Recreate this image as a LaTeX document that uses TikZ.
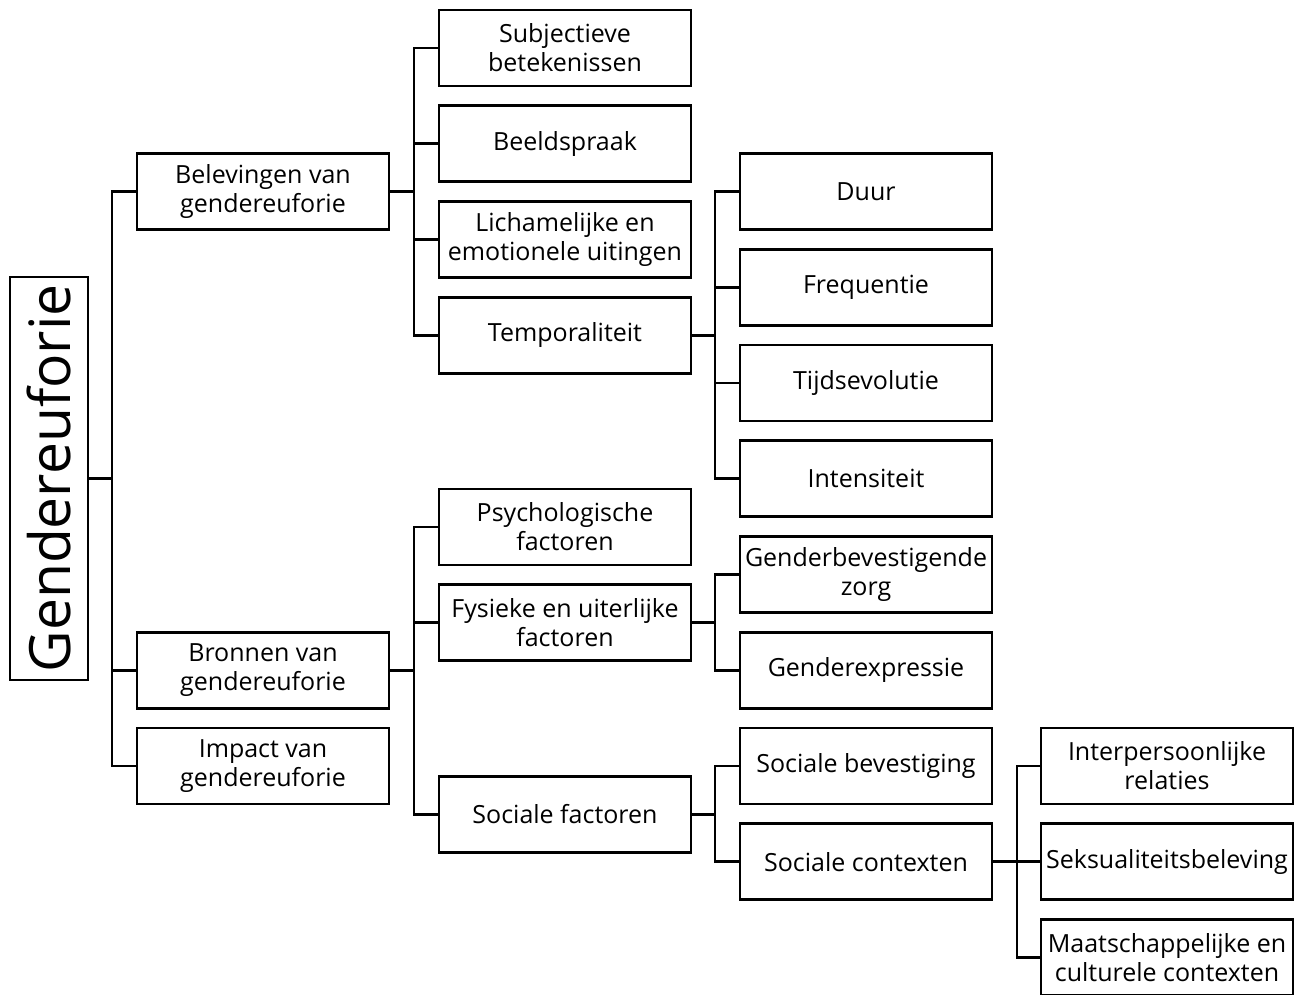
\documentclass[tikz,border=0pt]{standalone}
\usepackage{fontspec}
\setmainfont{Open Sans}
\usepackage{tikz}
\usetikzlibrary{positioning}
\usetikzlibrary{calc}
\newcommand{\GEwidth}{126pt}
\newcommand{\GEheight}{38pt}
\tikzset{GE_box/.style={
		rectangle,
		draw,
		line width=1.4pt,
		inner sep = 0pt,
		outer sep = 0pt,
		minimum width=\GEwidth, 
		minimum height=\GEheight,
		align=center,
		font=\fontsize{12.5}{14.5}\selectfont,
		%		anchor=north,
	}
}
\tikzset{GE_root/.style={
		rectangle,
		draw,
		line width=1.4pt,
		inner sep = 0pt,
		outer sep = 0pt,
		minimum width=39pt, 
		minimum height=201.5pt,
		font=\fontsize{28.5}{30}\selectfont,
	}
}
\tikzset{line/.style={
		%						thick,
		draw, 
		line width=1.3pt,
		line join=miter,
	}
}

\begin{document}
\begin{tikzpicture}[x=0.5pt, y=-0.5pt, node distance = 9.875pt and 24.75pt]
\useasboundingbox (0,0) rectangle (1306,995);

% root
\node[GE_root] (ge) at (49,478.5) {\rotatebox{90}{Gendereuforie}};

% belevingen
\node[GE_box] (bel) at (263,191.5) {Belevingen van\\gendereuforie};
\node[GE_box] (subj) at (565,48) {Subjectieve\\betekenissen};
\node[GE_box, below = of subj] (beeld) {Beeldspraak};
\node[GE_box, below = of beeld] (lich) {Lichamelijke en\\emotionele uitingen};
\node[GE_box, below = of lich] (temp) {Temporaliteit};

\node[GE_box] (duur) at (866,191.5) {Duur};
\node[GE_box, below = of duur] (freq) {Frequentie};
\node[GE_box, below = of freq] (tijd) {Tijdsevolutie};
\node[GE_box, below = of tijd] (inte) {Intensiteit};

% bronnen
\node[GE_box] (bron) at (263,670.25) {Bronnen van\\gendereuforie};
\node[GE_box, below = of bron] (impact) {Impact van\\gendereuforie};

\node[GE_box] (psych) at (565,527) {Psychologische\\factoren};
\node[GE_box, below = of psych] (fys) {Fysieke en uiterlijke\\factoren};
\node[GE_box] (socf) at (565,814.25) {Sociale factoren};

\node[GE_box] (gbev) at (866,574.5) {Genderbevestigende\\zorg};
\node[GE_box, below = of gbev] (gexp) {Genderexpressie};
\node[GE_box, below = of gexp] (sbev) {Sociale bevestiging};
\node[GE_box, below = of sbev] (scon) {Sociale contexten};

\node[GE_box] (inter) at (1167,766) {Interpersoonlijke\\relaties};
\node[GE_box, below = of inter] (seks) {Seksualiteitsbeleving};
\node[GE_box, below = of seks] (maat) {Maatschappelijke en\\culturele contexten};

% connectors
\draw[line] (ge.east) -- ++(24,0) |- (bel.west);
\draw[line] (ge.east) -- ++(24,0) |- (bron.west);
\draw[line] (ge.east) -- ++(24,0) |- (impact.west);

\draw[line] (bel.east) -- ++(25,0) |- (subj.west);
\draw[line] (bel.east) -- ++(25,0) |- (beeld.west);
\draw[line] (bel.east) -- ++(25,0) |- (lich.west);
\draw[line] (bel.east) -- ++(25,0) |- (temp.west);

\draw[line] (temp.east) -- ++(24,0) |- (duur.west);
\draw[line] (temp.east) -- ++(24,0) |- (freq.west);
\draw[line] (temp.east) -- ++(24,0) |- (tijd.west);
\draw[line] (temp.east) -- ++(24,0) |- (inte.west);

\draw[line] (bron.east) -- ++(25,0) |- (psych.west);
\draw[line] (bron.east) -- ++(25,0) |- (fys.west);
\draw[line] (bron.east) -- ++(25,0) |- (socf.west);

\draw[line] (fys.east) -- ++(24,0) |- (gbev.west);
\draw[line] (fys.east) -- ++(24,0) |- (gexp.west);

\draw[line] (socf.east) -- ++(24,0) |- (sbev.west);
\draw[line] (socf.east) -- ++(24,0) |- (scon.west);

\draw[line] (scon.east) -- ++(25,0) |- (inter.west);
\draw[line] (scon.east) -- ++(25,0) |- (seks.west);
\draw[line] (scon.east) -- ++(25,0) |- (maat.west);

\end{tikzpicture}
\end{document}
